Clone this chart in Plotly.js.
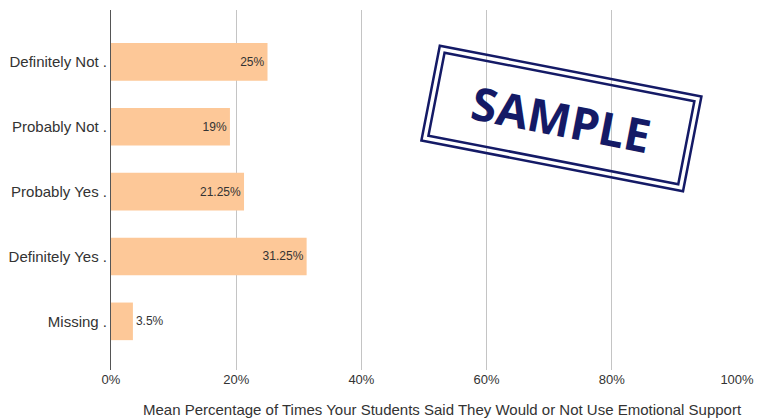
<!DOCTYPE html>
<html><head><meta charset="utf-8">
<script src="https://cdn.plot.ly/plotly-3.0.1.min.js"></script>
<style>html,body{margin:0;padding:0;background:#fff;}#chart{width:758px;height:420px;}</style>
</head><body><div id="chart"></div>
<script>
const categories = ["Definitely Not .", "Probably Not .", "Probably Yes .", "Definitely Yes .", "Missing ."];
const values = [25, 19, 21.25, 31.25, 3.5];
const valueLabels = ["25%", "19%", "21.25%", "31.25%", "3.5%"];
const xTickVals = [0, 20, 40, 60, 80, 100];
const xTickText = ["0%", "20%", "40%", "60%", "80%", "100%"];
const xTitle = "Mean Percentage of Times Your Students Said They Would or Not Use Emotional Support";
const stampText = "SAMPLE";

const trace = {
  type: "bar", orientation: "h",
  x: values, y: categories,
  text: valueLabels,
  textposition: values.map(v => v < 8 ? "outside" : "inside"),
  insidetextanchor: "end",
  constraintext: "none",
  cliponaxis: false,
  textfont: {family: "Liberation Sans, Arial, sans-serif", size: 12, color: "#333"},
  marker: {color: "#FDC898", line: {width: 0}},
  width: 0.58,
  hoverinfo: "none"
};
const navy = "#141a66";
const layout = {
  width: 758, height: 420,
  margin: {l: 111, r: 21, t: 10, b: 50},
  paper_bgcolor: "#fff", plot_bgcolor: "#fff",
  showlegend: false,
  font: {family: "Liberation Sans, Arial, sans-serif", color: "#333"},
  xaxis: {
    range: [0, 100], tickvals: xTickVals, ticktext: xTickText,
    showgrid: true, gridcolor: "#c4c4c4", gridwidth: 1,
    zeroline: false, showline: false, ticks: "",
    tickfont: {size: 13, color: "#333"}
  },
  yaxis: {
    type: "category", categoryorder: "array", categoryarray: categories,
    range: [4.75, -0.8],
    showline: true, linecolor: "#555", linewidth: 1,
    showgrid: false, ticks: "", ticklen: 0,
    tickfont: {size: 15, color: "#333"}
  },
  annotations: [
    {xref: "paper", yref: "paper", x: 0.529, y: -0.111, xanchor: "center", yanchor: "middle",
     text: xTitle, showarrow: false, font: {size: 15, color: "#333"}},
    {xref: "paper", yref: "paper", x: 0.72, y: 0.70, xanchor: "center", yanchor: "middle",
     text: "", showarrow: false,
     width: 264, height: 94, borderwidth: 2.5, bordercolor: navy, borderpad: 0, textangle: 11},
    {xref: "paper", yref: "paper", x: 0.72, y: 0.70, xanchor: "center", yanchor: "middle",
     text: stampText, showarrow: false,
     width: 252, height: 82, borderwidth: 2.5, bordercolor: navy, borderpad: 0, textangle: 11,
     font: {family: "Open Sans", size: 46, color: navy, weight: 700}}
  ]
};
Plotly.newPlot("chart", [trace], layout, {staticPlot: true, displayModeBar: false});
</script></body></html>
